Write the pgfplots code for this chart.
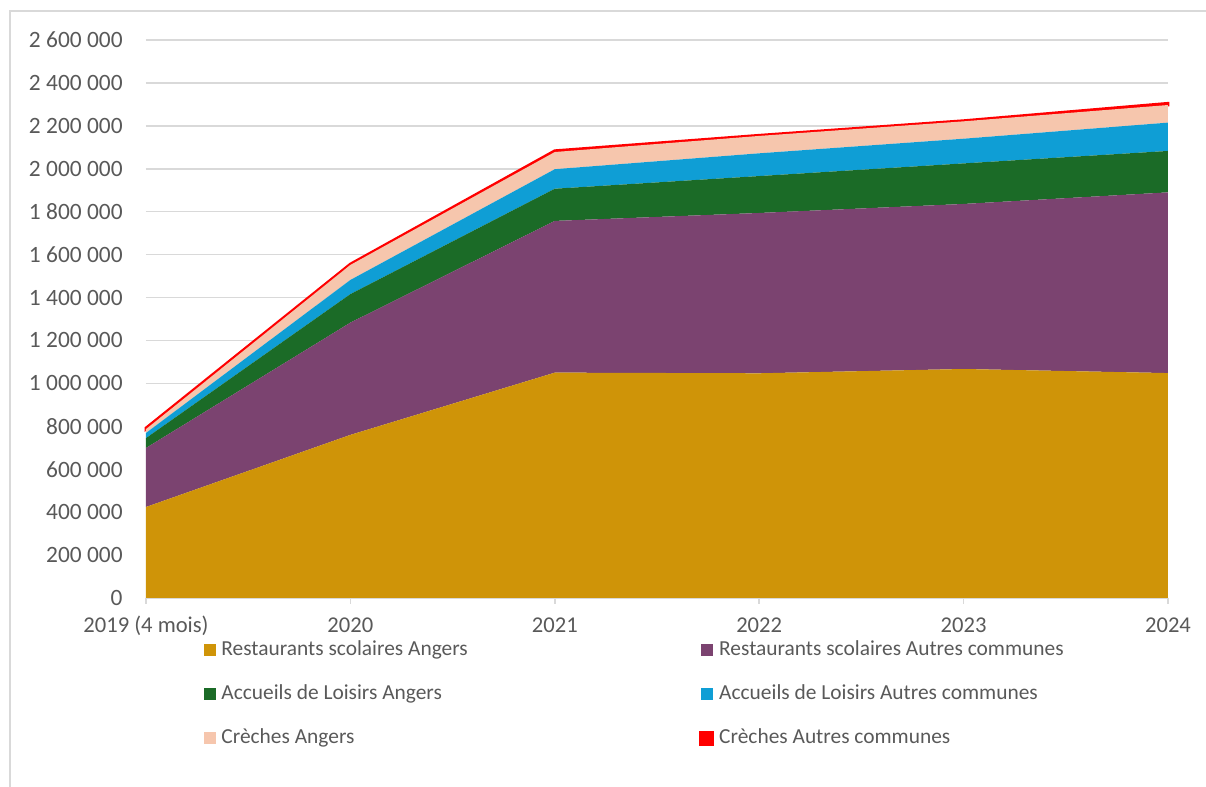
\documentclass[border=0pt]{standalone}
\usepackage{pgfplots}
\pgfplotsset{compat=1.18}
\usepackage{fontspec}
\setmainfont{Carlito}

\definecolor{cOr}{HTML}{CF9408}
\definecolor{cPu}{HTML}{7B4370}
\definecolor{cGr}{HTML}{1B6B27}
\definecolor{cBl}{HTML}{0F9ED5}
\definecolor{cPe}{HTML}{F6C6AD}
\definecolor{cRe}{HTML}{FF0000}
\definecolor{txt}{HTML}{595959}
\definecolor{grd}{HTML}{D9D9D9}

% values (in units)
\pgfplotstableread{
x  rsa     rso     ala     alo     ca     co
0  424000  275000  46000   24000   18000  5000
1  760000  523000  133000  66000   70000  4000
2  1050000 707000  150000  91000   80000  6000
3  1047000 747000  172000  106000  81000  3000
4  1067000 769000  189000  115000  81000  3000
5  1048000 842000  193000  132000  82000  8000
}\data

\newcommand{\lcol}[1]{\makebox[237pt][l]{#1}}

\begin{document}
\fontsize{11.7}{14}\selectfont
\begin{tikzpicture}
\path[use as bounding box] (0,0) rectangle (603pt,393.5pt);
\draw[grd, line width=0.8pt] (5pt,0) -- (5pt,388pt) -- (603pt,388pt);
\begin{axis}[
  at={(73pt,94.5pt)}, anchor=south west,
  scale only axis, width=511pt, height=279pt,
  xmin=0, xmax=5, ymin=0, ymax=2600000,
  stack plots=y,
  scaled y ticks=false,
  axis line style={draw=none},
  ytick={0,200000,...,2600000},
  yticklabels={0,200 000,400 000,600 000,800 000,1 000 000,1 200 000,1 400 000,1 600 000,1 800 000,2 000 000,2 200 000,2 400 000,2 600 000},
  xtick={0,...,5},
  xticklabels={2019 (4 mois),2020,2021,2022,2023,2024},
  ymajorgrids, grid style={grd, line width=0.8pt},
  ytick style={draw=none},
  xtick style={draw=none},
  yticklabel style={anchor=east, inner sep=0pt, xshift=-11.5pt, text=txt},
  xticklabel style={anchor=base, inner sep=0pt, yshift=-17.25pt, text=txt, font=\fontsize{11.3}{13}\selectfont},
  clip=false,
  legend columns=2,
  legend cell align=left,
  legend style={at={(0.0568,-0.068)}, anchor=north west, draw=none, fill=none,
    inner sep=0pt, row sep=9pt, text=txt, font=\fontsize{10.7}{13}\selectfont,
    /tikz/every odd column/.append style={column sep=0.5pt}},
  legend image code/.code={\fill[#1] (0pt,-3pt) rectangle (6pt,3pt);},
]
\addplot[fill=cOr, draw=none] table[x=x,y=rsa]{\data} \closedcycle;
\addlegendentry{\lcol{Restaurants scolaires Angers}}
\addplot[fill=cPu, draw=none] table[x=x,y=rso]{\data} \closedcycle;
\addlegendentry{Restaurants scolaires Autres communes}
\addplot[fill=cGr, draw=none] table[x=x,y=ala]{\data} \closedcycle;
\addlegendentry{\lcol{Accueils de Loisirs Angers}}
\addplot[fill=cBl, draw=none] table[x=x,y=alo]{\data} \closedcycle;
\addlegendentry{Accueils de Loisirs Autres communes}
\addplot[fill=cPe, draw=none] table[x=x,y=ca]{\data} \closedcycle;
\addlegendentry{\lcol{Crèches Angers}}
\addplot[fill=cRe, draw=cRe, line width=1.4pt] table[x=x,y=co]{\data} \closedcycle;
\addlegendentry{Crèches Autres communes}
\draw[grd, line width=0.8pt] (axis cs:0,0) -- (axis cs:5,0);
\pgfplotsinvokeforeach{0,...,5}{\draw[grd, line width=0.8pt] (axis cs:#1,0) -- ++(0,-3pt);}
\end{axis}
\end{tikzpicture}
\end{document}
